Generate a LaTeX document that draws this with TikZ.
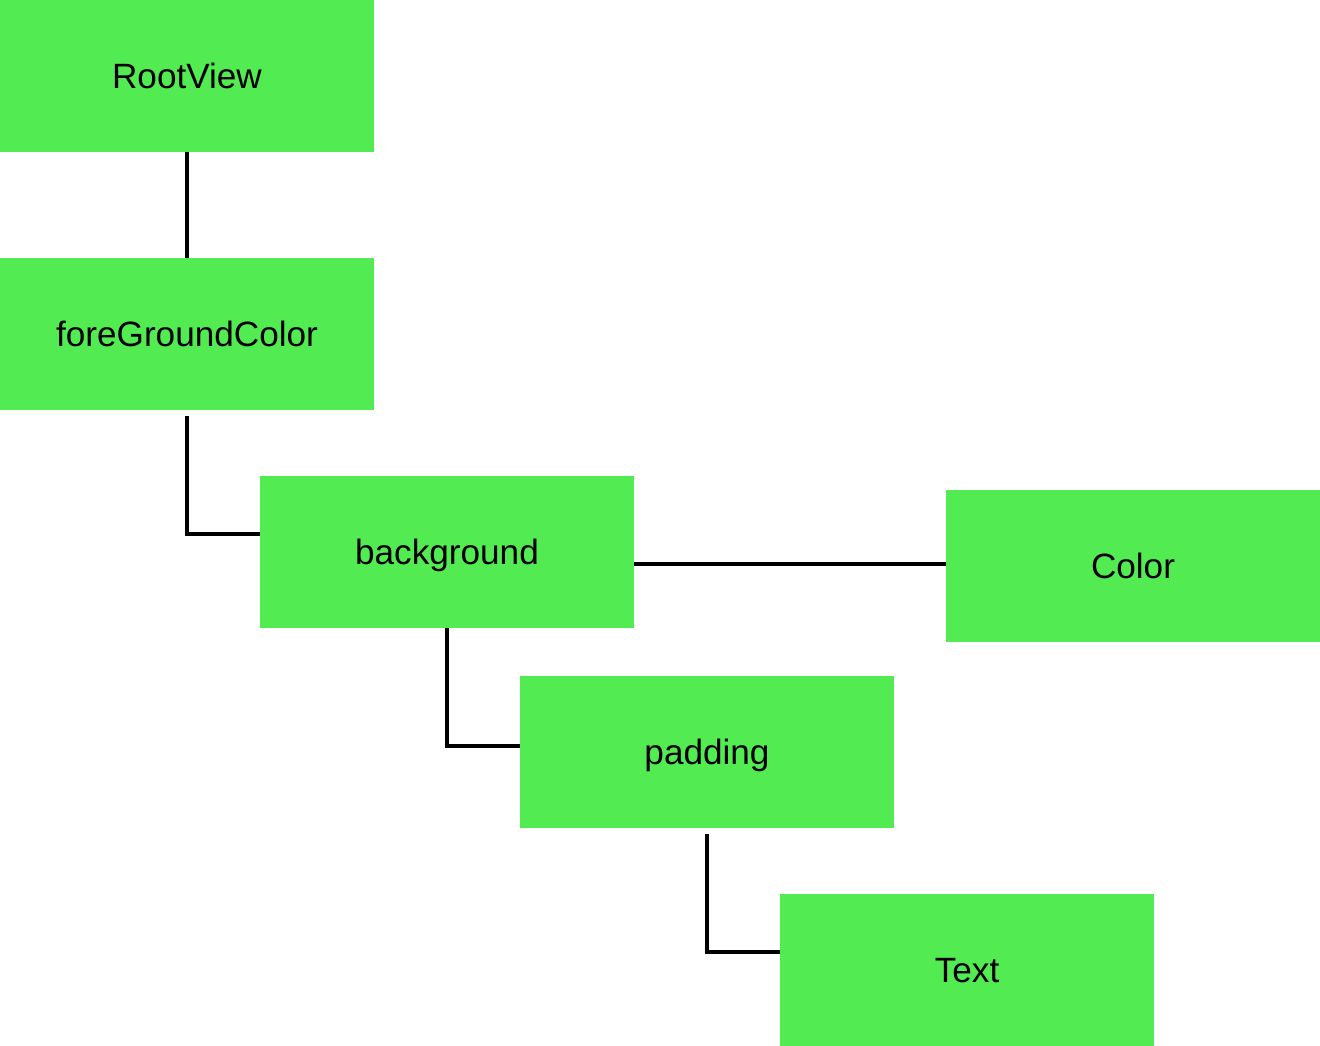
\documentclass[tikz,border=0pt]{standalone}
\usepackage{fontspec}
\setmainfont{Liberation Sans}
\definecolor{boxgreen}{RGB}{83,235,82}
\begin{document}
\begin{tikzpicture}
	\tikzstyle{box}=[rectangle, fill=boxgreen, minimum width=7.48cm, minimum height=3.04cm, inner sep=0pt, text depth=0pt, font=\fontsize{20}{24}\selectfont]
	\tikzstyle{link}=[black, line width=0.07cm]
	\useasboundingbox (0,0) rectangle (26.4,-20.92);
	% Boxes
	\foreach \n/\x/\y/\t in {root/3.74/-1.52/RootView, fg/3.74/-6.68/foreGroundColor, bg/8.94/-11.04/background, col/22.66/-11.32/Color, pad/14.14/-15.04/padding, txt/19.34/-19.40/Text}
		\node at (\x, \y) [box] (\n) {\t};
	%---------------------%
	% RootView -> foreGroundColor
	\draw [link] (root.south) -- (fg.north);
	% foreGroundColor -> background
	\coordinate (fg_out) at ([yshift=-0.12cm]fg.south);
	\draw [link] (fg_out) |- ([yshift=0.36cm]bg.west);
	% background -> Color
	\coordinate (col_in) at ([yshift=0.04cm]col.west);
	\draw [link] (bg.east |- col_in) -- (col_in);
	% background -> padding
	\draw [link] (bg.south) |- ([yshift=0.12cm]pad.west);
	% padding -> Text
	\coordinate (pad_out) at ([yshift=-0.12cm]pad.south);
	\draw [link] (pad_out) |- ([yshift=0.36cm]txt.west);
	%---------------------%
\end{tikzpicture}
\end{document}
